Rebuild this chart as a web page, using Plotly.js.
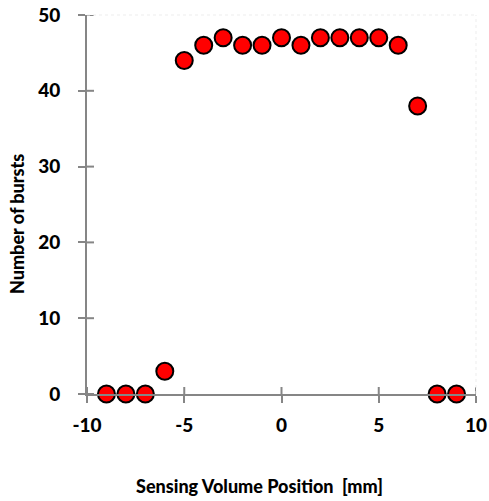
<!DOCTYPE html>
<html>
<head>
<meta charset="utf-8">
<script src="https://cdn.plot.ly/plotly-3.0.1.min.js"></script>
<style>html,body{margin:0;padding:0;background:#fff;}#chart{width:489px;height:501px;}</style>
</head>
<body>
<div id="chart"></div>
<script>
const positions = [-9, -8, -7, -6, -5, -4, -3, -2, -1, 0, 1, 2, 3, 4, 5, 6, 7, 8, 9];
const bursts = [0, 0, 0, 3, 44, 46, 47, 46, 46, 47, 46, 47, 47, 47, 47, 46, 38, 0, 0];
const xTicks = [-10, -5, 0, 5, 10];
const yTicks = [0, 10, 20, 30, 40, 50];
const xTitle = 'Sensing Volume Position  [mm]';
const yTitle = 'Number of bursts';

const fontFam = 'Lato, "Open Sans", sans-serif';
const axisColor = '#868686';
const plotW = 389, plotH = 379;

const data = [{
  x: positions, y: bursts, type: 'scatter', mode: 'markers',
  marker: {color: '#ff0000', size: 17, line: {color: '#000000', width: 2}},
  cliponaxis: false, hoverinfo: 'skip'
}];

const baseAxis = {
  showgrid: false, zeroline: false, showline: true, linecolor: axisColor, linewidth: 2,
  ticks: 'outside', ticklen: 7, tickwidth: 2, tickcolor: axisColor,
  tickfont: {family: fontFam, size: 19, color: '#000', weight: 900},
  fixedrange: true
};

// inner halves of the crossing tick marks
const tickShapes = [];
xTicks.forEach(v => tickShapes.push({type: 'line', xref: 'x', yref: 'paper', x0: v, x1: v,
  y0: 0, y1: 7 / plotH, line: {color: axisColor, width: 2}}));
yTicks.forEach(v => tickShapes.push({type: 'line', xref: 'paper', yref: 'y', y0: v, y1: v,
  x0: 0, x1: 7 / plotW, line: {color: axisColor, width: 2}}));

const layout = {
  width: 489, height: 501,
  margin: {l: 87, r: 13, t: 15, b: 107},
  paper_bgcolor: '#fff', plot_bgcolor: '#fff',
  showlegend: false,
  xaxis: Object.assign({}, baseAxis, {
    range: [-10, 10], tickvals: xTicks, ticktext: xTicks.map(String),
    ticklabelstandoff: 6
  }),
  yaxis: Object.assign({}, baseAxis, {
    range: [0, 50], tickvals: yTicks, ticktext: yTicks.map(String),
    ticklabelstandoff: 14
  }),
  shapes: tickShapes.concat([
    {type: 'line', xref: 'paper', yref: 'paper', x0: 0, x1: 1, y0: 1, y1: 1,
      line: {color: '#ededed', width: 1, dash: 'dot'}},
    {type: 'line', xref: 'paper', yref: 'paper', x0: 1, x1: 1, y0: 0, y1: 1,
      line: {color: '#ededed', width: 1, dash: 'dot'}}
  ]),
  annotations: [
    {text: xTitle, xref: 'paper', yref: 'paper', x: (259 - 87) / plotW, y: -(486 - 394) / plotH,
      xanchor: 'center', yanchor: 'middle', showarrow: false,
      font: {family: fontFam, size: 18, color: '#000', weight: 900}},
    {text: yTitle, xref: 'paper', yref: 'paper', x: -(87 - 17) / plotW, y: (394 - 224) / plotH,
      xanchor: 'center', yanchor: 'middle', showarrow: false, textangle: -90,
      font: {family: fontFam, size: 18, color: '#000', weight: 900}}
  ]
};

Plotly.newPlot('chart', data, layout, {displayModeBar: false, staticPlot: true});
</script>
</body>
</html>
